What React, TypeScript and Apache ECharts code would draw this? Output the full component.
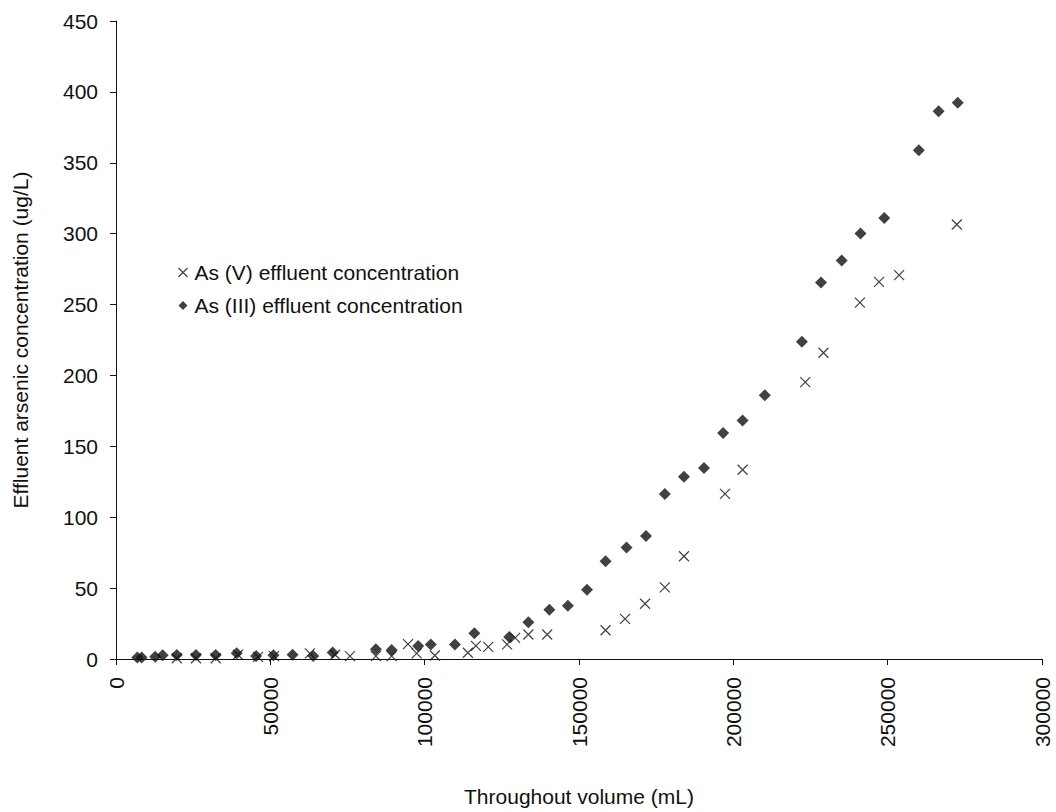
import React, { useEffect, useRef } from "react";
import * as echarts from "echarts";

// As (V) effluent concentration: [throughput volume (mL), concentration (ug/L)]
const asV: number[][] = [
  [19700, 0.5], [25900, 0.5], [32300, 0.5], [39500, 3], [46000, 1.5],
  [51200, 2], [62800, 4], [71000, 3], [75800, 2], [84200, 2],
  [89300, 2], [94600, 10.5], [97400, 4], [103300, 2.5], [114000, 4.4],
  [116600, 9.3], [120600, 8.6], [126700, 10.3], [129300, 14.9], [133600, 17.3],
  [139700, 17.3], [158600, 20.3], [164900, 28.3], [171400, 39], [177800, 50.5],
  [184000, 72.5], [197300, 116.5], [203000, 133.5], [223300, 195.3], [229200, 216],
  [241000, 251.4], [247200, 266], [253700, 270.8], [272400, 306.5],
];

// As (III) effluent concentration
const asIII: number[][] = [
  [6900, 1], [8300, 1], [12700, 1.6], [15100, 2.6], [19700, 2.8],
  [25900, 2.8], [32300, 2.8], [39100, 4], [45400, 2.1], [51000, 2.6],
  [57200, 3], [63900, 2.1], [70200, 4.6], [84200, 6.8], [89300, 6.4],
  [97900, 9.1], [102000, 10.3], [109800, 10.3], [116100, 18.2], [127400, 15.6],
  [133600, 25.9], [140400, 34.8], [146400, 37.6], [152600, 48.8], [158600, 68.9],
  [165400, 78.7], [171700, 86.7], [177800, 116.3], [184000, 128.5], [190500, 134.8],
  [196700, 159.4], [203000, 168.3], [210200, 186], [222200, 223.8], [228400, 265.6],
  [235100, 281], [241200, 300.2], [248900, 311], [260100, 358.9], [266500, 386.3],
  [272700, 392.3],
];

const seriesNames = ["As (V) effluent concentration", "As (III) effluent concentration"];
const xTicks = { min: 0, max: 300000, interval: 50000 };
const yTicks = { min: 0, max: 450, interval: 50 };

const crossPath = "path://M0,0L10,10M10,0L0,10";
const FONT = "Liberation Sans, Arial, sans-serif";
const FS = 21;

export default function App() {
  const ref = useRef<HTMLDivElement>(null);
  useEffect(() => {
    if (!ref.current) return;
    const chart = echarts.init(ref.current, undefined, { renderer: "svg" });
    const axisLine = { show: true, lineStyle: { color: "#111", width: 1 } };
    chart.setOption({
      animation: false,
      backgroundColor: "#fff",
      textStyle: { fontFamily: FONT, color: "#111" },
      grid: { left: 116, right: 14, top: 21, bottom: 149 },
      legend: {
        orient: "vertical",
        left: 171,
        top: 257,
        itemGap: 12,
        itemWidth: 9,
        itemHeight: 9,
        textStyle: { fontSize: FS, color: "#111", fontFamily: FONT, padding: [0, 0, 0, 2] },
        data: [
          { name: seriesNames[0], icon: crossPath, itemStyle: { color: "none", borderColor: "#111", borderWidth: 1.2 } },
          { name: seriesNames[1], icon: "diamond", itemStyle: { color: "#111" } },
        ],
      },
      xAxis: {
        type: "value",
        min: xTicks.min,
        max: xTicks.max,
        interval: xTicks.interval,
        name: "Throughout volume (mL)",
        nameLocation: "middle",
        nameGap: 127,
        nameTextStyle: { fontSize: FS, color: "#111", fontFamily: FONT },
        axisLine,
        axisTick: { show: true, inside: false, length: 6, lineStyle: { color: "#111" } },
        axisLabel: {
          rotate: 90,
          fontSize: FS,
          color: "#111",
          margin: 18,
          fontFamily: FONT,
          formatter: (v: number) => String(v),
        },
        splitLine: { show: false },
      },
      yAxis: {
        type: "value",
        min: yTicks.min,
        max: yTicks.max,
        interval: yTicks.interval,
        name: "Effluent arsenic concentration (ug/L)",
        nameLocation: "middle",
        nameGap: 85,
        nameTextStyle: { fontSize: FS, color: "#111", fontFamily: FONT },
        axisLine,
        axisTick: { show: true, inside: false, length: 6, lineStyle: { color: "#111" } },
        axisLabel: { fontSize: FS, color: "#111", margin: 18, fontFamily: FONT },
        splitLine: { show: false },
      },
      series: [
        {
          name: seriesNames[0],
          type: "scatter",
          data: asV,
          symbol: crossPath,
          symbolSize: 10,
          itemStyle: { color: "none", borderColor: "#111", borderWidth: 1.2 },
          z: 3,
        },
        {
          name: seriesNames[1],
          type: "scatter",
          data: asIII,
          symbol: "diamond",
          symbolSize: 12,
          itemStyle: { color: "#111" },
          z: 2,
        },
      ],
    });
    return () => chart.dispose();
  }, []);
  return (
    <div
      ref={ref}
      style={{ position: "fixed", left: 0, top: 0, width: 1056, height: 812, background: "#fff" }}
    />
  );
}
